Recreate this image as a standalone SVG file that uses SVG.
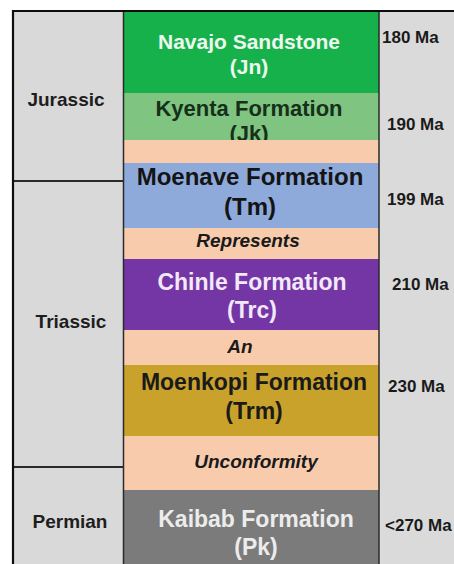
<svg xmlns="http://www.w3.org/2000/svg" width="454" height="564" viewBox="0 0 454 564">
  <style>
    .cell { stroke: none; }
    .fm { font-family: "Liberation Sans", Arial, sans-serif; font-weight: bold; text-anchor: middle; }
    .gap { font-family: "Liberation Sans", Arial, sans-serif; font-weight: bold; font-style: italic; text-anchor: middle; fill: #1a1a1a; font-size: 19px; }
    .period { font-family: "Liberation Sans", Arial, sans-serif; font-weight: bold; text-anchor: middle; fill: #1e1e1e; font-size: 19px; }
    .age { font-family: "Liberation Sans", Arial, sans-serif; font-weight: bold; fill: #1a1a1a; font-size: 17px; }
    .rule { stroke: #2a2a2a; fill: none; }
  </style>
  <defs>
    <clipPath id="clip-jk"><rect x="123" y="93" width="256" height="47"/></clipPath>
  </defs>

  <rect x="0" y="0" width="454" height="564" fill="#ffffff"/>

  <!-- side columns -->
  <rect x="13" y="11" width="110" height="553" fill="#d9d9d9"/>
  <rect x="379" y="11" width="75" height="553" fill="#dadada"/>

  <!-- formation column -->
  <g id="navajo">
    <rect class="cell" x="123" y="11" width="256" height="82" fill="#17b14c"/>
    <text class="fm" x="249" y="49" font-size="21" fill="#eef8ee">Navajo Sandstone</text>
    <text class="fm" x="249" y="74" font-size="21" fill="#eef8ee">(Jn)</text>
  </g>
  <g id="kyenta" clip-path="url(#clip-jk)">
    <rect class="cell" x="123" y="93" width="256" height="47" fill="#7fc481"/>
    <text class="fm" x="249" y="116" font-size="22" fill="#16301a">Kyenta Formation</text>
    <text class="fm" x="249" y="141" font-size="22" fill="#16301a">(Jk)</text>
  </g>
  <g id="gap-1">
    <rect class="cell" x="123" y="140" width="256" height="23" fill="#f8cbad"/>
  </g>
  <g id="moenave">
    <rect class="cell" x="123" y="163" width="256" height="65" fill="#8eaadb"/>
    <text class="fm" x="250" y="185" font-size="24" fill="#141414">Moenave Formation</text>
    <text class="fm" x="250" y="215" font-size="24" fill="#141414">(Tm)</text>
  </g>
  <g id="gap-represents">
    <rect class="cell" x="123" y="228" width="256" height="31" fill="#f8cbad"/>
    <text class="gap" x="248" y="247">Represents</text>
  </g>
  <g id="chinle">
    <rect class="cell" x="123" y="259" width="256" height="71" fill="#7436a4"/>
    <text class="fm" x="252" y="290" font-size="23" fill="#f1e9f8">Chinle Formation</text>
    <text class="fm" x="252" y="318" font-size="23" fill="#f1e9f8">(Trc)</text>
  </g>
  <g id="gap-an">
    <rect class="cell" x="123" y="330" width="256" height="35" fill="#f8cbad"/>
    <text class="gap" x="240" y="353">An</text>
  </g>
  <g id="moenkopi">
    <rect class="cell" x="123" y="365" width="256" height="71" fill="#c9a22b"/>
    <text class="fm" x="254" y="390" font-size="23" fill="#1a1a1a">Moenkopi Formation</text>
    <text class="fm" x="254" y="419" font-size="23" fill="#1a1a1a">(Trm)</text>
  </g>
  <g id="gap-unconformity">
    <rect class="cell" x="123" y="436" width="256" height="54" fill="#f8cbad"/>
    <text class="gap" x="256" y="468" font-size="20">Unconformity</text>
  </g>
  <g id="kaibab">
    <rect class="cell" x="123" y="490" width="256" height="74" fill="#7b7b7b"/>
    <text class="fm" x="256" y="527" font-size="23" fill="#ececec">Kaibab Formation</text>
    <text class="fm" x="256" y="555" font-size="23" fill="#ececec">(Pk)</text>
  </g>

  <!-- periods -->
  <g id="period-jurassic"><text class="period" x="66" y="106">Jurassic</text></g>
  <g id="period-triassic"><text class="period" x="71" y="328">Triassic</text></g>
  <g id="period-permian"><text class="period" x="70" y="528">Permian</text></g>

  <!-- ages -->
  <g id="ages">
    <text class="age" x="382" y="43">180 Ma</text>
    <text class="age" x="387" y="130">190 Ma</text>
    <text class="age" x="387" y="205">199 Ma</text>
    <text class="age" x="392" y="290">210 Ma</text>
    <text class="age" x="388" y="392">230 Ma</text>
    <text class="age" x="385" y="531">&lt;270 Ma</text>
  </g>

  <!-- table rules -->
  <g id="rules">
    <line class="rule" x1="123.5" y1="11" x2="123.5" y2="564" stroke-width="1.5"/>
    <line class="rule" x1="379" y1="11" x2="379" y2="564" stroke-width="1.5"/>
    <line class="rule" x1="13" y1="181" x2="123" y2="181" stroke-width="2"/>
    <line class="rule" x1="13" y1="467" x2="123" y2="467" stroke-width="2"/>
    <line x1="12" y1="11" x2="454" y2="11" stroke="#0d0d0d" stroke-width="2.2"/>
    <line x1="13" y1="10" x2="13" y2="564" stroke="#0d0d0d" stroke-width="2.2"/>
  </g>
</svg>
